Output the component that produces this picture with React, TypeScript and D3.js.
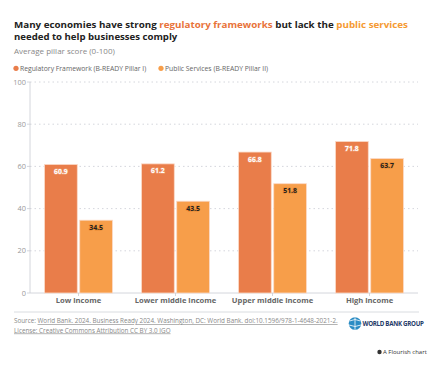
import * as d3 from 'd3';

const categories = ['Low income', 'Lower middle income', 'Upper middle income', 'High income'];
const regulatory = [60.9, 61.2, 66.8, 71.8];
const publicServices = [34.5, 43.5, 51.8, 63.7];
const yTicks = [0, 20, 40, 60, 80, 100];

const seriesDefs = [
  { key: 'reg', label: 'Regulatory Framework (B-READY Pillar I)', color: '#e97d4a', text: '#ffffff', values: regulatory },
  { key: 'pub', label: 'Public Services (B-READY Pillar II)', color: '#f79e4a', text: '#222222', values: publicServices },
];

const W = 438;
const H = 367;
const font = '"Open Sans", "DejaVu Sans", sans-serif';

export default function App() {
  const left = 30, right = 418, top = 82, bottom = 293;

  const x = d3.scaleBand<string>().domain(categories).range([left, right]).paddingInner(0.25).paddingOuter(0.125);
  const xInner = d3.scaleBand<string>().domain(seriesDefs.map(s => s.key)).range([0, x.bandwidth()]).padding(0.07);
  const y = d3.scaleLinear().domain([0, 100]).range([bottom, top]);

  return (
    <div style={{ position: 'fixed', left: 0, top: 0, width: W, height: H, background: '#fff' }}>
      <svg width={W} height={H} style={{ display: 'block', fontFamily: font }}>
        {/* title */}
        <text x={14} y={28} fontSize={9.6} fontWeight={700} fill="#222" textLength={394} lengthAdjust="spacingAndGlyphs">
          Many economies have strong <tspan fill="#e8733a">regulatory frameworks</tspan> but lack the{' '}
          <tspan fill="#f59a33">public services</tspan>
        </text>
        <text x={14} y={40} fontSize={9.6} fontWeight={700} fill="#222">needed to help businesses comply</text>
        <text x={14} y={53.5} fontSize={8} fill="#888">Average pillar score (0-100)</text>

        {/* legend */}
        {seriesDefs.map((s, i) => {
          const lx = i === 0 ? 16 : 161;
          return (
            <g key={s.key}>
              <circle cx={lx} cy={68.3} r={2.6} fill={s.color} />
              <text x={lx + 4} y={70.8} fontSize={6.8} fill="#666">{s.label}</text>
            </g>
          );
        })}

        {/* grid + y axis */}
        {yTicks.map(t => (
          <g key={t}>
            {t > 0 && (
              <line x1={left} x2={right} y1={y(t)} y2={y(t)} stroke="#c9cbd3" strokeWidth={0.8} strokeDasharray="1.5,3" />
            )}
            <line x1={left - 3} x2={left} y1={y(t)} y2={y(t)} stroke="#c9cbd3" strokeWidth={0.8} />
            <text x={left - 4} y={y(t) + 2.6} fontSize={7.4} fill="#999" textAnchor="end">{t}</text>
          </g>
        ))}
        <line x1={left} x2={left} y1={top} y2={bottom} stroke="#c9cbd3" strokeWidth={0.8} />
        <line x1={left} x2={right} y1={bottom} y2={bottom} stroke="#c9cbd3" strokeWidth={0.8} />

        {/* bars */}
        {categories.map((c, ci) => (
          <g key={c} transform={`translate(${x(c)},0)`}>
            {seriesDefs.map(s => {
              const v = s.values[ci];
              const bx = xInner(s.key) ?? 0;
              const bw = xInner.bandwidth();
              return (
                <g key={s.key}>
                  <rect x={bx} y={y(v)} width={bw} height={bottom - y(v)} fill={s.color} stroke="#fbd9c6" strokeWidth={0.8} />
                  <text x={bx + bw / 2} y={y(v) + 9.5} fontSize={6.8} fontWeight={700} fill={s.text} textAnchor="middle"
                    stroke={s.key === 'reg' ? '#f0a27a' : '#e8882f'} strokeWidth={1.2} paintOrder="stroke">
                    {v.toFixed(1)}
                  </text>
                </g>
              );
            })}
            <line x1={x.bandwidth() / 2} x2={x.bandwidth() / 2} y1={bottom} y2={bottom + 3} stroke="#c9cbd3" strokeWidth={0.8} />
            <text x={x.bandwidth() / 2} y={302.5} fontSize={7.6} fontWeight={700} fill="#666" textAnchor="middle">{c}</text>
          </g>
        ))}

        {/* footer */}
        <line x1={14} x2={419} y1={312} y2={312} stroke="#cfd3d8" strokeWidth={0.8} />
        <text x={14} y={323} fontSize={6.3} fill="#888">
          Source: <tspan textDecoration="underline">World Bank. 2024. Business Ready 2024. Washington, DC: World Bank. doi:10.1596/978-1-4648-2021-2.</tspan>
        </text>
        <text x={14} y={332.5} fontSize={6.3} fill="#888" textDecoration="underline">License: Creative Commons Attribution CC BY 3.0 IGO</text>

        {/* world bank logo */}
        <g>
          <circle cx={355} cy={323.5} r={6.3} fill="#2a8cc4" />
          <path d="M349.5,321 Q355,318 360.5,321 M349,325 Q355,328 361,325 M355,317.5 L355,329.5" stroke="#fff" strokeWidth={0.8} fill="none" />
          <text x={362.5} y={326} fontSize={6.2} fontWeight={700} fill="#1f3a68" letterSpacing={-0.3}>WORLD BANK GROUP</text>
        </g>

        {/* flourish credit */}
        <circle cx={379.5} cy={352} r={2.2} fill="#333" />
        <text x={383} y={354.2} fontSize={6} fill="#333">A Flourish chart</text>
      </svg>
    </div>
  );
}
